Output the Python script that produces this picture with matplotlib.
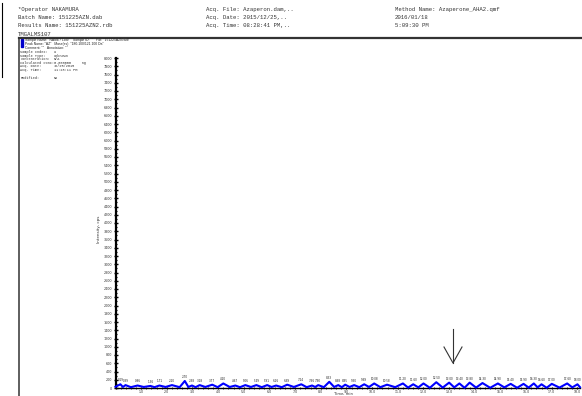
import matplotlib
matplotlib.use("Agg")
import matplotlib.pyplot as plt
from matplotlib.lines import Line2D
from matplotlib.patches import Rectangle
from matplotlib.ticker import MultipleLocator

W, H = 582, 396

# Report header
header_left = ["*Operator NAKAMURA", "Batch Name: 151225AZN.dab",
               "Results Name: 151225AZN2.rdb", "TMGALMS107"]
header_mid = ["Acq. File: Azaperon.dam,..", "Acq. Date: 2015/12/25,..",
              "Acq. Time: 08:28:41 PM,.."]
header_right = ["Method Name: Azaperone_AHA2.qmf", "2016/01/18", "5:09:30 PM"]

sample_lines = ['Sample Name: "NAME? Lot#"   Sample ID: ""   File: "151225AZN.wiff"',
                'Peak Name: "AZ"   Mass(es): "180.100/121.100 Da"',
                'Comment: ""   Annotation: ""']
info_labels = ["Sample Index:", "Sample Type:", "Concentration:", "Calculated Conc:",
               "Acq. Date:", "Acq. Time:", "", "Modified:"]
info_values = ["9", "Unknown", "N/A", "0.000000     ng", "12/25/2015", "11:28:11 PM", "", "No"]

# Chromatogram: integrated peaks (retention time in min, intensity in cps)
peak_rt = [0.19, 0.39, 0.86, 1.36, 1.71, 2.20, 2.70, 2.98, 3.28, 3.77, 4.20, 4.67,
           5.06, 5.49, 5.91, 6.26, 6.69, 7.24, 7.66, 7.90, 8.33, 8.68, 8.95, 9.30,
           9.69, 10.08, 10.58, 11.20, 11.60, 12.00, 12.50, 13.00, 13.40, 13.80,
           14.30, 14.90, 15.40, 15.90, 16.30, 16.60, 17.00, 17.60, 18.00]
peak_cps = [90, 70, 60, 50, 60, 70, 170, 60, 70, 80, 110, 60,
            70, 70, 70, 60, 80, 90, 60, 70, 150, 70, 80, 70,
            90, 110, 80, 110, 90, 110, 140, 130, 110, 130,
            120, 110, 100, 100, 110, 90, 100, 110, 90]
# Baseline points between the peaks
valley_rt = [0.0, 0.29, 0.6, 1.1, 1.52, 1.95, 2.5, 2.84, 3.12, 3.5, 3.98, 4.45,
             4.85, 5.28, 5.7, 6.08, 6.48, 6.95, 7.45, 7.78, 8.12, 8.52, 8.82, 9.12,
             9.5, 9.88, 10.32, 10.9, 11.4, 11.8, 12.25, 12.75, 13.2, 13.6, 14.05,
             14.6, 15.15, 15.65, 16.1, 16.45, 16.8, 17.3, 17.8, 18.1]
valley_cps = [30, 25, 20, 25, 20, 25, 20, 25, 20, 25, 20, 25,
              20, 25, 20, 25, 20, 25, 20, 25, 20, 25, 20, 25,
              20, 25, 20, 20, 10, 15, 5, 10, 15, 5, 10,
              5, 15, 5, 10, 15, 5, 10, 15, 20]

x_ticks = list(range(1, 19))
y_ticks = list(range(0, 8001, 200))

mono = "Liberation Mono"
sans = "Liberation Sans"


def fx(px):
    return px / W


def fy(py):
    return 1 - py / H


fig = plt.figure(figsize=(W / 100, H / 100), dpi=100)
fig.patch.set_facecolor("white")

# Header text
for i, s in enumerate(header_left):
    fig.text(fx(18), fy(9 + 8.4 * i), s, family=mono, fontsize=4.1, color="#333333", va="center")
for i, s in enumerate(header_mid):
    fig.text(fx(206), fy(9 + 8.4 * i), s, family=mono, fontsize=4.1, color="#333333", va="center")
for i, s in enumerate(header_right):
    fig.text(fx(395), fy(9 + 8.4 * i), s, family=mono, fontsize=4.1, color="#333333", va="center")

# Frame lines
fig.add_artist(Line2D([fx(1.5), fx(1.5)], [fy(3), fy(77)], color="black", lw=0.8))
fig.add_artist(Line2D([fx(19), fx(582)], [fy(37.5), fy(37.5)], color="#333333", lw=1.6))
fig.add_artist(Line2D([fx(19), fx(19)], [fy(37.5), fy(396)], color="#333333", lw=1.1))
fig.add_artist(Rectangle((fx(20.5), fy(47)), fx(2.5), 8 / H, color="#0000cc",
                         transform=fig.transFigure))

for i, s in enumerate(sample_lines):
    fig.text(fx(25), fy(40.5 + 3.8 * i), s, family=sans, fontsize=2.4, color="#222222", va="center")

for i, (lab, val) in enumerate(zip(info_labels, info_values)):
    if not lab:
        continue
    yy = fy(52 + 3.6 * i + (1 if i == 7 else 0))
    fig.text(fx(20.5), yy, lab, family=mono, fontsize=2.5, color="#333333", va="center")
    fig.text(fx(54), yy, val, family=mono, fontsize=2.5, color="#333333", va="center")

# Chromatogram axes
ax = fig.add_axes([fx(115.5), fy(388), fx(580) - fx(115.5), fy(58) - fy(388)])
ax.set_xlim(0, 18.1)
ax.set_ylim(0, 8000)
for side in ("top", "right"):
    ax.spines[side].set_visible(False)
ax.spines["left"].set_linewidth(1.6)
ax.spines["bottom"].set_linewidth(1.0)
ax.set_xticks(x_ticks)
ax.set_xticklabels([f"{v:.1f}" for v in x_ticks])
ax.set_yticks(y_ticks)
ax.set_yticklabels([str(v) for v in y_ticks])
ax.yaxis.set_minor_locator(MultipleLocator(100))
ax.xaxis.set_minor_locator(MultipleLocator(0.2))
ax.tick_params(axis="y", which="major", length=3, width=1.0, direction="inout",
               labelsize=2.4, pad=1, labelcolor="#333333")
ax.tick_params(axis="y", which="minor", length=2, width=0.8, direction="inout")
ax.tick_params(axis="x", which="major", length=2.0, width=0.8, direction="inout",
               labelsize=2.3, pad=0.4, labelcolor="#333333")
ax.tick_params(axis="x", which="minor", length=1.2, width=0.5, direction="inout")
ax.set_ylabel("Intensity, cps", fontsize=3.0, color="#333333")
ax.yaxis.set_label_coords(-0.032, 0.48)
ax.set_xlabel("Time, min", fontsize=2.7, color="#333333", va="center")
ax.xaxis.set_label_coords(0.49, -0.0195)

trace = sorted(zip(peak_rt + valley_rt, peak_cps + valley_cps))
ax.plot([t for t, _ in trace], [c for _, c in trace], color="#0000ff", lw=1.5,
        clip_on=False, zorder=3)

for rt, c in zip(peak_rt, peak_cps):
    ax.annotate(f"{rt:.2f}", (rt, c), xytext=(0, 1.5), textcoords="offset points",
                ha="center", va="bottom", fontsize=2.0, color="#222222",
                annotation_clip=False)

# Marker arrow
fig.add_artist(Line2D([fx(453), fx(453)], [fy(329), fy(363)], color="#333333", lw=0.8))
fig.add_artist(Line2D([fx(444), fx(453), fx(462)], [fy(347), fy(363), fy(347)],
                      color="#333333", lw=0.8))

fig.savefig("out.png", dpi=100, facecolor="white")
